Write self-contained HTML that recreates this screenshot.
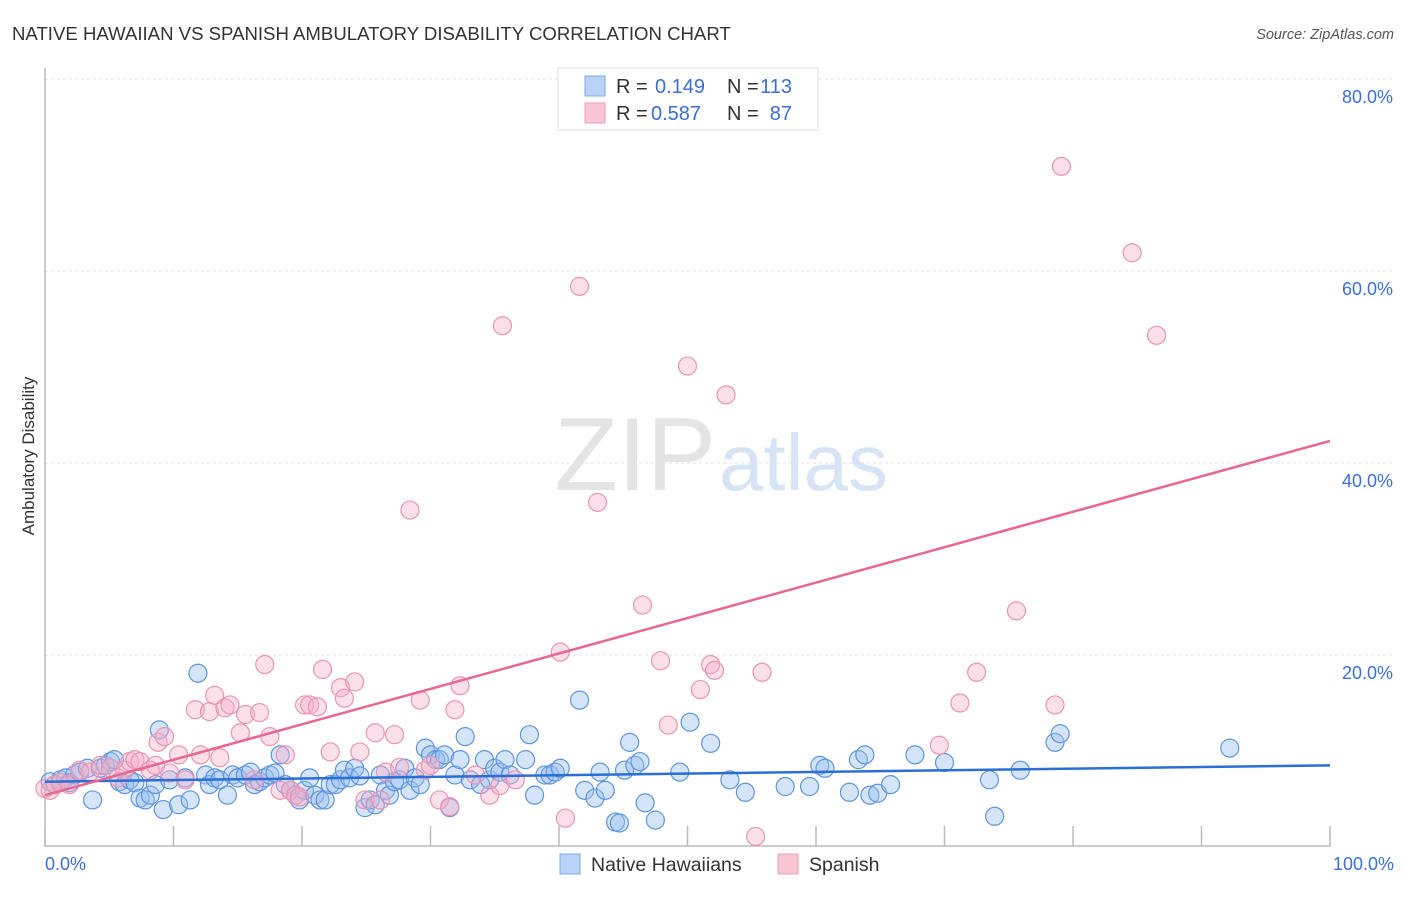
<!DOCTYPE html>
<html><head><meta charset="utf-8"><style>
body{margin:0;background:#fff;font-family:"Liberation Sans",sans-serif}
svg text{font-family:"Liberation Sans",sans-serif}
</style></head><body>
<svg width="1406" height="892" xmlns="http://www.w3.org/2000/svg">
<text x="12" y="40" font-size="18.6" fill="#333">NATIVE HAWAIIAN VS SPANISH AMBULATORY DISABILITY CORRELATION CHART</text>
<text x="1394" y="39" font-size="14.5" fill="#555" font-style="italic" text-anchor="end">Source: ZipAtlas.com</text>
<text x="716" y="490" font-size="104" fill="#e4e4e4" font-family="Liberation Serif" text-anchor="end">ZIP</text>
<text x="719" y="490" font-size="80" fill="#d6e4f5">atlas</text>
<g id="grid"></g>
<g id="axes"></g>
<g id="pts"></g>
<g id="trend"></g>
<text transform="translate(34,456) rotate(-90)" font-size="17" fill="#333" text-anchor="middle">Ambulatory Disability</text>
<text x="45" y="870" font-size="18" fill="#3a6fd8">0.0%</text>
<text x="1394" y="870" font-size="18" fill="#3a6fd8" text-anchor="end">100.0%</text>
<g>
<rect x="558" y="68" width="260" height="62" fill="#fff" stroke="#ddd"/>
<rect x="585" y="76" width="20" height="20" fill="#b8d3f5" stroke="#7fa8e0"/>
<rect x="585" y="103" width="20" height="20" fill="#f9c6d6" stroke="#eaa0b8"/>
<text x="616" y="93" font-size="20" fill="#333">R =</text>
<text x="655" y="93" font-size="20" fill="#3a6fd8">0.149</text>
<text x="727" y="93" font-size="20" fill="#333">N =</text>
<text x="792" y="93" font-size="20" fill="#3a6fd8" text-anchor="end">113</text>
<text x="616" y="120" font-size="20" fill="#333">R =</text>
<text x="651" y="120" font-size="20" fill="#3a6fd8">0.587</text>
<text x="727" y="120" font-size="20" fill="#333">N =</text>
<text x="792" y="120" font-size="20" fill="#3a6fd8" text-anchor="end">87</text>
</g>
<g>
<rect x="560" y="854" width="20" height="20" fill="#b8d3f5" stroke="#7fa8e0"/>
<text x="591" y="871" font-size="19.5" fill="#333">Native Hawaiians</text>
<rect x="778" y="854" width="20" height="20" fill="#f9c6d6" stroke="#eaa0b8"/>
<text x="809" y="871" font-size="19.5" fill="#333">Spanish</text>
</g>
</svg>
<script>
const blueX=[0.4,0.8,1.2,1.6,1.9,2.3,2.7,3.3,3.7,4.3,4.7,5.1,5.4,5.8,6.2,6.6,7.0,7.4,7.8,8.2,8.6,8.9,9.2,9.7,10.4,10.9,11.3,11.9,12.5,12.8,13.2,13.6,14.2,14.6,15.0,15.6,16.0,16.3,16.7,17.1,17.5,17.9,18.3,18.7,19.1,19.5,19.8,20.2,20.6,21.0,21.4,21.8,22.2,22.6,23.0,23.3,23.7,24.1,24.5,24.9,25.3,25.7,26.1,26.5,26.8,27.2,27.6,28.0,28.4,28.8,29.2,29.6,30.0,30.4,30.7,31.1,31.5,31.9,32.3,32.7,33.1,33.9,34.2,34.6,35.0,35.4,35.8,36.2,37.4,37.7,38.1,38.9,39.3,39.7,40.1,41.6,42.0,42.8,43.2,43.6,44.4,44.7,45.1,45.5,45.9,46.3,46.7,47.5,49.4,50.2,51.8,53.3,54.5,57.6,59.5,60.3,60.7,62.6,63.3,63.8,64.2,64.8,65.8,67.7,70.0,73.5,73.9,75.9,78.6,79.0,92.2];
const blueY=[6.8,6.5,7.0,7.2,6.7,7.5,7.8,8.2,4.9,8.2,8.5,8.9,9.1,6.8,6.5,7.0,6.7,5.1,4.9,5.4,6.5,12.2,3.9,7.0,4.4,7.2,4.9,18.1,7.5,6.5,7.2,7.0,5.4,7.5,7.2,7.5,7.8,6.5,6.8,7.2,7.5,7.7,9.6,6.5,5.9,5.4,4.9,5.9,7.2,5.4,4.9,4.9,6.5,6.5,7.0,8.0,7.2,8.2,7.4,4.1,4.9,4.4,7.5,5.9,5.4,6.8,7.0,8.2,5.9,7.2,6.5,10.3,9.6,9.1,9.1,9.6,4.1,7.5,9.1,11.5,7.0,6.5,9.1,7.0,8.2,7.8,9.1,7.5,9.1,11.7,5.4,7.5,7.5,7.8,8.2,15.3,5.9,5.1,7.8,5.9,2.6,2.5,8.0,10.9,8.5,8.9,4.6,2.8,7.8,13.0,10.8,7.0,5.7,6.3,6.3,8.5,8.2,5.7,9.1,9.6,5.4,5.6,6.5,9.6,8.8,7.0,3.2,8.0,10.9,11.8,10.3];
const pinkX=[0.0,0.4,0.8,1.2,1.9,2.7,3.5,4.3,5.1,5.7,6.2,6.6,7.0,7.4,8.2,8.6,8.8,9.3,9.7,10.4,10.9,11.7,12.1,12.8,13.2,13.6,14.0,14.4,15.2,15.6,16.3,16.7,17.1,17.5,18.3,18.7,19.1,19.5,19.8,20.2,20.6,21.2,21.6,22.2,23.0,23.3,24.1,24.5,24.9,25.7,26.1,26.5,27.2,27.6,28.4,29.2,29.6,30.0,30.7,31.5,31.9,32.3,33.5,34.6,35.4,35.6,36.6,40.1,40.5,41.6,43.0,46.5,47.9,48.5,50.0,51.0,51.8,52.1,53.0,55.3,55.8,69.6,71.2,72.5,75.6,78.6,79.1,84.6,86.5];
const pinkY=[6.1,5.9,6.5,6.7,6.5,8.0,7.8,8.5,8.2,7.2,8.0,8.9,9.1,8.9,8.0,8.5,10.9,11.5,7.7,9.6,7.0,14.3,9.6,14.1,15.8,9.3,14.5,14.8,11.9,13.8,7.0,14.0,19.0,11.5,5.9,9.6,5.9,5.4,5.2,14.8,14.8,14.6,18.5,9.9,16.6,15.5,17.2,9.9,4.9,11.9,4.9,7.8,11.7,8.3,35.1,15.3,8.0,8.5,4.9,4.2,14.3,16.8,7.5,5.4,6.4,54.3,7.0,20.3,3.0,58.4,35.9,25.2,19.4,12.7,50.1,16.4,19.0,18.4,47.1,1.1,18.2,10.6,15.0,18.2,24.6,14.8,70.9,61.9,53.3];
const blueTrend=[6.8,8.5];
const pinkTrend=[5.4,42.3];
const yTicks=[20,40,60,80];
const yTickLabels=["20.0%","40.0%","60.0%","80.0%"];
const xTicks=[0,10,20,30,40,50,60,70,80,90,100];
const NS="http://www.w3.org/2000/svg";
const sx=v=>45+v*12.85, sy=v=>847-v*9.6;
function mk(t,a,p){const e=document.createElementNS(NS,t);for(const k in a)e.setAttribute(k,a[k]);p.appendChild(e);return e;}
const grid=document.getElementById('grid'),axes=document.getElementById('axes'),pts=document.getElementById('pts'),tr=document.getElementById('trend');
yTicks.forEach((v,i)=>{
 const l=mk('line',{x1:45,x2:1395,y1:sy(v),y2:sy(v),stroke:'#e2e2e2','stroke-dasharray':'3,3'},grid);
 
 
 const t=mk('text',{x:1393,y:sy(v)+24,'font-size':18,fill:'#3a6fd8','text-anchor':'end'},grid);
 t.textContent=yTickLabels[i];
 
 
});
const ya=mk('line',{x1:45,x2:45,y1:68,y2:846,stroke:'#bbb','stroke-width':1.5},axes);


const xa=mk('line',{x1:44,x2:1331,y1:846,y2:846,stroke:'#bbb','stroke-width':1.5},axes);


xTicks.forEach(v=>{
 const t=mk('line',{x1:sx(v),x2:sx(v),y1:826,y2:846,stroke:'#bbb','stroke-width':1.5},axes);
 
 
});
blueX.forEach((x,i)=>{
 const c=mk('circle',{cx:sx(x),cy:sy(blueY[i]),r:9,fill:'rgba(150,190,240,0.4)',stroke:'#5f95de','stroke-width':1.2},pts);
 
 
});
pinkX.forEach((x,i)=>{
 const c=mk('circle',{cx:sx(x),cy:sy(pinkY[i]),r:9,fill:'rgba(245,175,200,0.4)',stroke:'#e895b2','stroke-width':1.2},pts);
 
 
});
const bt=mk('line',{x1:sx(0),x2:sx(100),y1:sy(blueTrend[0]),y2:sy(blueTrend[1]),stroke:'#2a6fd6','stroke-width':2.5},tr);


const pt=mk('line',{x1:sx(0),x2:sx(100),y1:sy(pinkTrend[0]),y2:sy(pinkTrend[1]),stroke:'#e8668f','stroke-width':2.5},tr);


</script>
</body></html>
